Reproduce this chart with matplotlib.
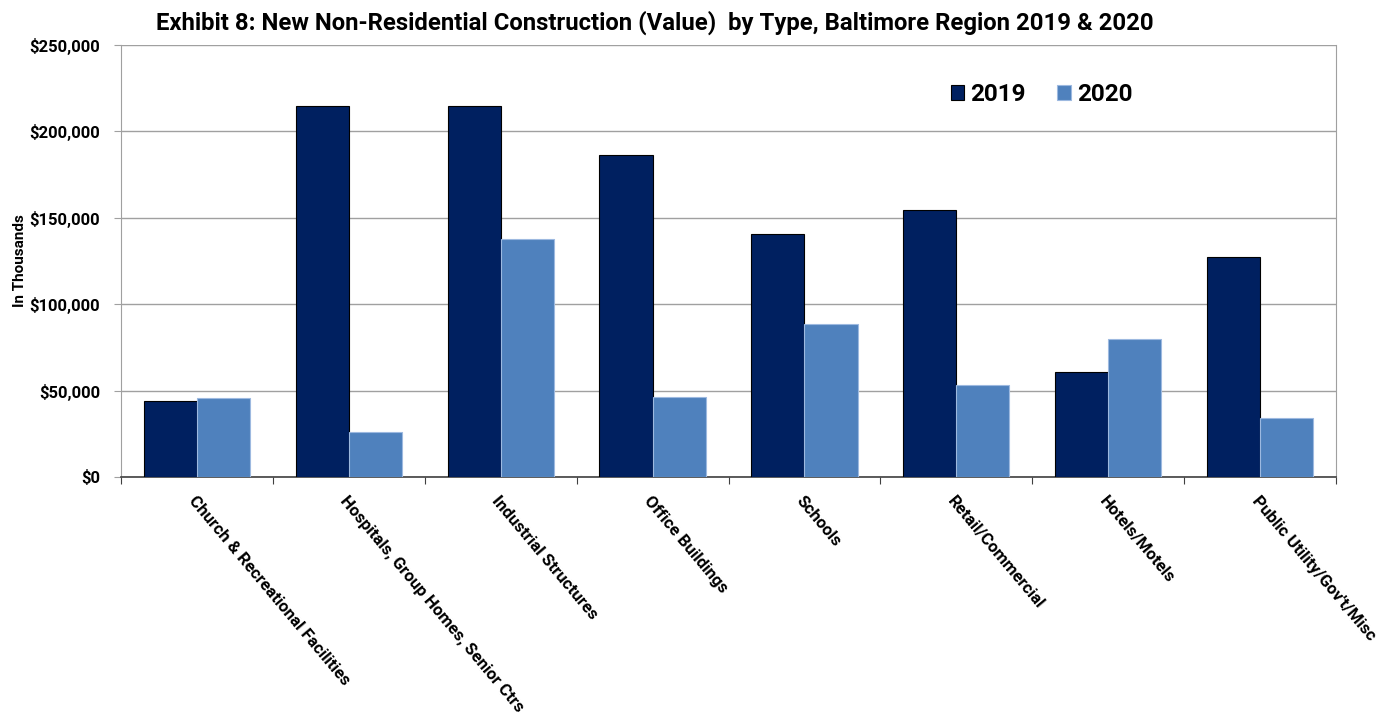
import matplotlib
matplotlib.use("Agg")
import matplotlib.pyplot as plt
import numpy as np
from matplotlib.ticker import FuncFormatter, MultipleLocator

plt.rcParams['font.family'] = ['Roboto', 'DejaVu Sans']

categories = ["Church & Recreational Facilities", "Hospitals, Group Homes, Senior Ctrs",
              "Industrial Structures", "Office Buildings", "Schools", "Retail/Commercial",
              "Hotels/Motels", "Public Utility/Gov't/Misc"]
values_2019 = [44000, 214700, 214500, 186300, 140600, 154500, 60800, 127300]
values_2020 = [45700, 26000, 137700, 46300, 88500, 53200, 79900, 34100]

fig = plt.figure(figsize=(13.92, 7.18), dpi=100)
ax = fig.add_axes([0.0869, 0.3357, 0.8729, 0.6016])

x = np.arange(len(categories))
w = 0.35
ax.bar(x - w/2, values_2019, w, color='#002060', edgecolor='#000000', linewidth=0.8, label='2019', zorder=3)
ax.bar(x + w/2, values_2020, w, color='#4F81BD', edgecolor='#9DB9E0', linewidth=0.8, label='2020', zorder=3)

ax.set_xlim(-0.5, len(categories) - 0.5)
ax.set_ylim(0, 250000)
ax.yaxis.set_major_locator(MultipleLocator(50000))
ax.yaxis.set_major_formatter(FuncFormatter(lambda v, p: f"${v:,.0f}"))
ax.grid(axis='y', color='#A0A0A0', linewidth=1, zorder=0)

ax.set_xticks(np.arange(len(categories) + 1) - 0.5)
ax.set_xticklabels([])
ax.set_xticks(x, minor=True)
ax.set_xticklabels(categories, minor=True, rotation=-50, ha='left', va='top',
                   rotation_mode='anchor', fontsize=12.2, fontweight='bold')
ax.tick_params(axis='x', which='minor', length=0, pad=12)
ax.tick_params(axis='x', which='major', length=5, color='#404040', direction='out')
ax.tick_params(axis='y', length=5, color='#A0A0A0', labelsize=12, pad=10)
for lbl in ax.get_yticklabels():
    lbl.set_fontweight('bold')

for s in ['left', 'right', 'top']:
    ax.spines[s].set_color('#A0A0A0')
ax.spines['top'].set_visible(False)
ax.spines['bottom'].set_color('#404040')
ax.spines['bottom'].set_linewidth(1.2)

ax.set_ylabel("In Thousands", fontsize=11, fontweight='bold', labelpad=2)

fig.text(0.4705, 0.968, "Exhibit 8: New Non-Residential Construction (Value)  by Type, Baltimore Region 2019 & 2020",
         ha='center', va='center', fontsize=17.2, fontweight='bold')

leg = ax.legend(loc='upper left', bbox_to_anchor=(0.665, 0.962), ncol=2, frameon=False,
                prop={'size': 17.5, 'weight': 'bold'}, handlelength=0.55, handleheight=0.55,
                handletextpad=0.25, columnspacing=1.3)

fig.savefig("out.png", dpi=100)
